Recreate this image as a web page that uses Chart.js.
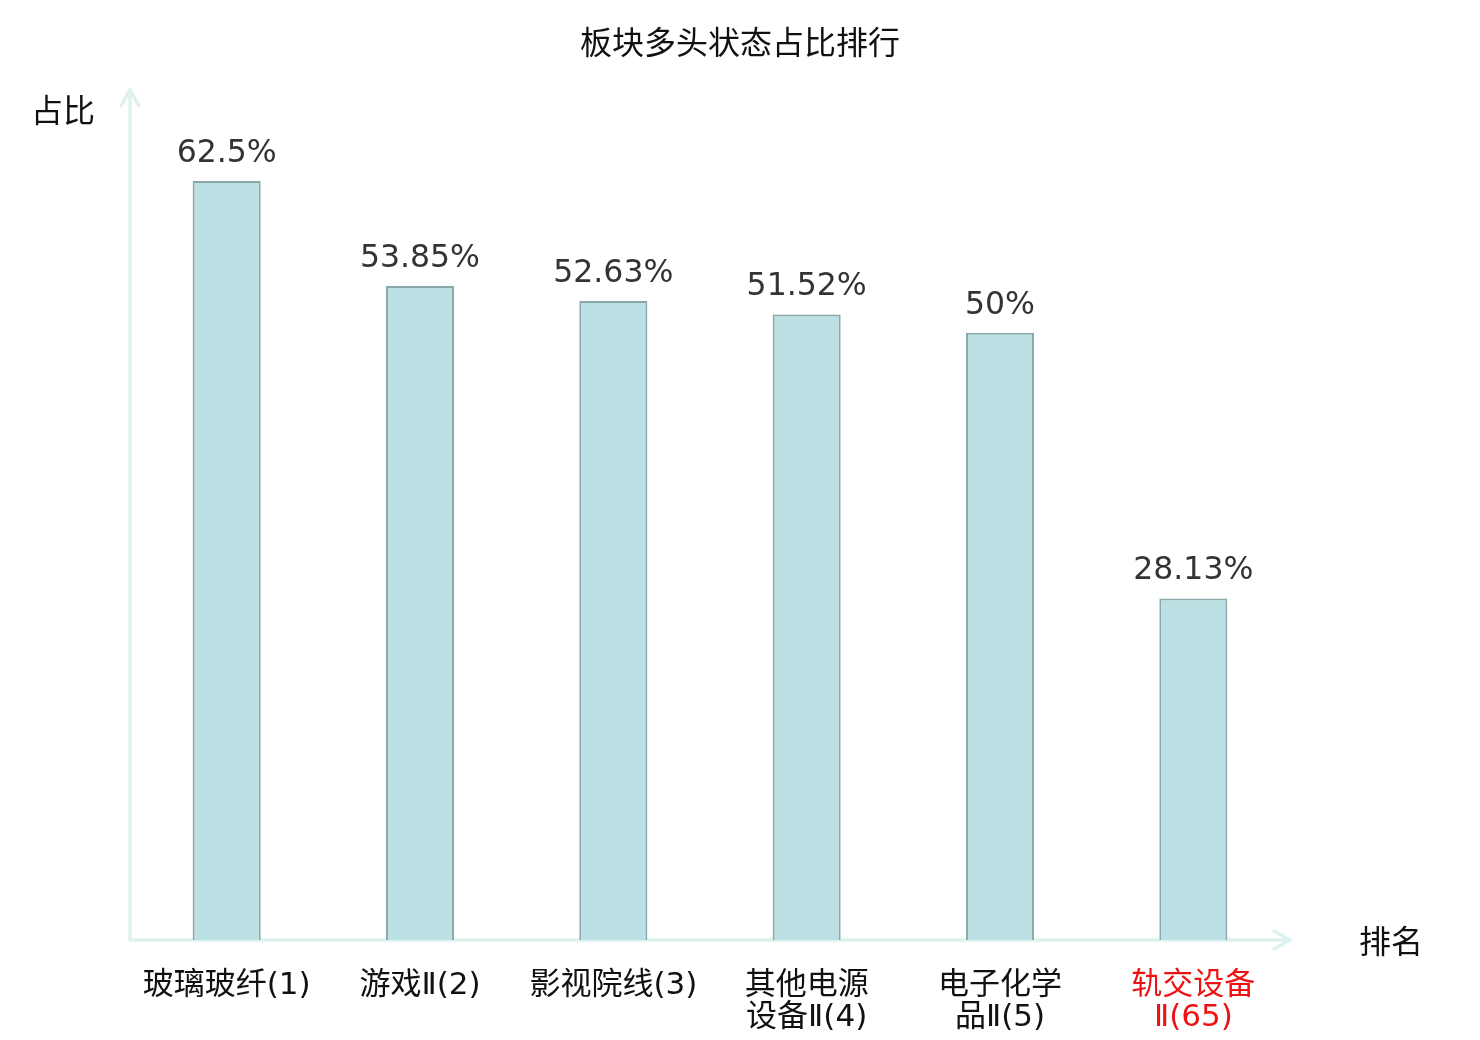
<!DOCTYPE html>
<html>
<head>
<meta charset="utf-8">
<script src="https://cdn.jsdelivr.net/npm/chart.js@4"></script>
<style>
html,body{margin:0;padding:0;background:#fff;}
#wrap{width:1480px;height:1040px;position:relative;}
</style>
</head>
<body>
<div id="wrap"><canvas id="c" width="1480" height="1040"></canvas></div>
<script>
const categories = [
  ['玻璃玻纤(1)'],
  ['游戏Ⅱ(2)'],
  ['影视院线(3)'],
  ['其他电源', '设备Ⅱ(4)'],
  ['电子化学', '品Ⅱ(5)'],
  ['轨交设备', 'Ⅱ(65)']
];
const values = [62.5, 53.85, 52.63, 51.52, 50, 28.13];
const valueLabels = ['62.5%', '53.85%', '52.63%', '51.52%', '50%', '28.13%'];
const labelColors = ['#111', '#111', '#111', '#111', '#111', '#ee1111'];
const titleText = '板块多头状态占比排行';
const yAxisName = '占比';
const xAxisName = '排名';

const CJK = '"Noto Sans CJK SC", "DejaVu Sans", sans-serif';
const MIX = '"DejaVu Sans", "Noto Sans CJK SC", sans-serif';
const axisColor = '#ddf2ef';

const decor = {
  id: 'decor',
  beforeDatasetsDraw(chart) {
    const ctx = chart.ctx, a = chart.chartArea;
    ctx.save();
    ctx.strokeStyle = axisColor;
    ctx.lineWidth = 3.5;
    ctx.lineCap = 'round';
    const x0 = a.left, y0 = a.bottom;
    ctx.beginPath();
    ctx.moveTo(x0, y0); ctx.lineTo(x0, a.top);
    ctx.moveTo(x0 - 9, a.top + 16); ctx.lineTo(x0, a.top); ctx.lineTo(x0 + 9, a.top + 16);
    ctx.moveTo(x0, y0); ctx.lineTo(a.right, y0);
    ctx.moveTo(a.right - 16, y0 - 9); ctx.lineTo(a.right, y0); ctx.lineTo(a.right - 16, y0 + 9);
    ctx.stroke();
    ctx.restore();
  },
  afterDatasetsDraw(chart) {
    const ctx = chart.ctx;
    ctx.save();
    const meta = chart.getDatasetMeta(0);
    ctx.font = '31.5px "DejaVu Sans", sans-serif';
    ctx.fillStyle = '#333';
    ctx.textAlign = 'center';
    ctx.textBaseline = 'alphabetic';
    meta.data.forEach((bar, i) => {
      ctx.fillText(valueLabels[i], bar.x, bar.y - 19);
    });
    ctx.font = '32px ' + CJK;
    ctx.fillStyle = '#111';
    ctx.textBaseline = 'middle';
    ctx.fillText(titleText, 740, 42);
    ctx.fillText(yAxisName, 63, 110);
    ctx.fillText(xAxisName, 1391, 941);
    ctx.restore();
  }
};

new Chart(document.getElementById('c'), {
  type: 'bar',
  data: {
    labels: categories,
    datasets: [{
      data: values,
      backgroundColor: '#bce1e4',
      borderColor: '#89a8a9',
      borderWidth: 2,
      barPercentage: 0.352,
      categoryPercentage: 1
    }]
  },
  options: {
    responsive: false,
    animation: false,
    devicePixelRatio: 1,
    layout: { padding: { left: 130, right: 190, top: 90, bottom: 0 } },
    plugins: { legend: { display: false }, tooltip: { enabled: false }, title: { display: false } },
    scales: {
      x: {
        grid: { display: false, drawTicks: false },
        border: { display: false },
        afterFit(scale) { scale.height = 100; },
        ticks: {
          padding: 30,
          maxRotation: 0,
          autoSkip: false,
          font: { family: MIX, size: 31, lineHeight: 1.03 },
          color: (c) => labelColors[c.index]
        }
      },
      y: {
        display: false,
        min: 0,
        max: 70
      }
    }
  },
  plugins: [decor]
});
</script>
</body>
</html>
